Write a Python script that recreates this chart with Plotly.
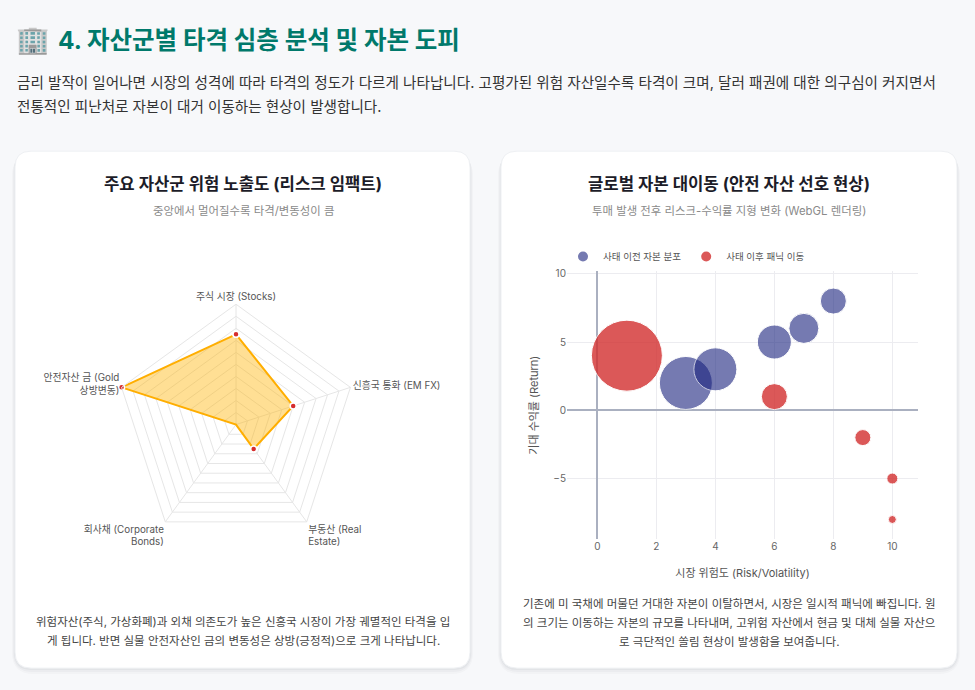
import plotly.graph_objects as go

W, H = 975, 690

# ---------------- data ----------------
radar_categories = ["주식 시장 (Stocks)", "신흥국 통화 (EM FX)", "부동산 (Real<br>Estate)",
                    "회사채 (Corporate<br>Bonds)", "안전자산 금 (Gold<br>상방변동)"]
radar_values = [75, 50, 25, 0, 100]

before_risk = [3, 4, 6, 7, 8]
before_return = [2, 3, 5, 6, 8]
before_capital = [53, 43, 34, 30, 26]

after_risk = [1, 6, 9, 10, 10]
after_return = [4, 1, -2, -5, -8]
after_capital = [71, 26, 16, 11, 8]

x_ticks = [0, 2, 4, 6, 8, 10]
y_ticks = [-5, 0, 5, 10]

FONT = "Inter, 'Noto Sans CJK KR', sans-serif"


def px(x):
    return x / W


def py(y):
    return 1 - y / H


def rrect_path(x0, y0, x1, y1, r):
    pts = [
        f"M {px(x0 + r)},{py(y0)}",
        f"L {px(x1 - r)},{py(y0)}",
        f"Q {px(x1)},{py(y0)} {px(x1)},{py(y0 + r)}",
        f"L {px(x1)},{py(y1 - r)}",
        f"Q {px(x1)},{py(y1)} {px(x1 - r)},{py(y1)}",
        f"L {px(x0 + r)},{py(y1)}",
        f"Q {px(x0)},{py(y1)} {px(x0)},{py(y1 - r)}",
        f"L {px(x0)},{py(y0 + r)}",
        f"Q {px(x0)},{py(y0)} {px(x0 + r)},{py(y0)}",
        "Z",
    ]
    return " ".join(pts)


fig = go.Figure()

# ---------------- radar ----------------
theta = radar_categories + [radar_categories[0]]
rvals = radar_values + [radar_values[0]]
fig.add_trace(go.Scatterpolar(
    r=rvals, theta=theta, mode="lines+markers", fill="toself",
    fillcolor="rgba(255,179,0,0.42)",
    line=dict(color="#ffae00", width=2),
    marker=dict(color="#d62d2d", size=6, line=dict(color="white", width=1.5)),
    showlegend=False, subplot="polar",
))

# ---------------- bubble ----------------
fig.add_trace(go.Scatter(
    x=before_risk, y=before_return, mode="markers", name="사태 이전 자본 분포",
    marker=dict(size=before_capital, sizemode="diameter", sizeref=1,
                color="#1a237e", opacity=0.6, line=dict(color="white", width=1)),
    xaxis="x", yaxis="y",
))
fig.add_trace(go.Scatter(
    x=after_risk, y=after_return, mode="markers", name="사태 이후 패닉 이동",
    marker=dict(size=after_capital, sizemode="diameter", sizeref=1,
                color="#d32f2f", opacity=0.8, line=dict(color="white", width=1)),
    xaxis="x", yaxis="y",
))

shapes = []
for (x0, x1) in [(15, 470), (501, 957)]:
    for k, a in [(6, 0.025), (4, 0.03), (2, 0.04)]:
        shapes.append(dict(type="path", xref="paper", yref="paper",
                           path=rrect_path(x0 - k / 2, 148 + k / 2, x1 + k / 2, 668 + k, 16 + k),
                           fillcolor=f"rgba(30,40,60,{a})", line=dict(width=0), layer="below"))
    shapes.append(dict(type="path", xref="paper", yref="paper",
                       path=rrect_path(x0, 148, x1, 668, 16),
                       fillcolor="white", line=dict(color="#eef0f3", width=1), layer="below"))

annotations = []


def txt(x, y, s, size, color, anchor="center", bold=False, family=FONT):
    annotations.append(dict(
        x=px(x), y=py(y), xref="paper", yref="paper", text=f"<b>{s}</b>" if bold else s,
        showarrow=False, xanchor=anchor, yanchor="middle",
        font=dict(size=size, color=color, family=family), align=anchor if anchor != "center" else "center",
    ))


txt(14, 36, "🏢", 27, "#333", anchor="left")
txt(56, 36, "4. 자산군별 타격 심층 분석 및 자본 도피", 24.5, "#00796b", anchor="left", bold=True)
txt(15, 79, "금리 발작이 일어나면 시장의 성격에 따라 타격의 정도가 다르게 나타납니다. 고평가된 위험 자산일수록 타격이 크며, 달러 패권에 대한 의구심이 커지면서",
    14.6, "#333", anchor="left")
txt(15, 104, "전통적인 피난처로 자본이 대거 이동하는 현상이 발생합니다.", 14.6, "#333", anchor="left")

txt(243, 181, "주요 자산군 위험 노출도 (리스크 임팩트)", 16.7, "#1c1c28", bold=True)
txt(243, 208, "중앙에서 멀어질수록 타격/변동성이 큼", 11.4, "#8a8a8a")
txt(729, 181, "글로벌 자본 대이동 (안전 자산 선호 현상)", 16.7, "#1c1c28", bold=True)
txt(729, 208, "투매 발생 전후 리스크-수익률 지형 변화 (WebGL 렌더링)", 11.4, "#8a8a8a")

txt(243, 622, "위험자산(주식, 가상화폐)과 외채 의존도가 높은 신흥국 시장이 가장 궤멸적인 타격을 입", 11.5, "#444")
txt(243, 641, "게 됩니다. 반면 실물 안전자산인 금의 변동성은 상방(긍정적)으로 크게 나타납니다.", 11.5, "#444")
txt(729, 604, "기존에 미 국채에 머물던 거대한 자본이 이탈하면서, 시장은 일시적 패닉에 빠집니다. 원", 11.5, "#444")
txt(729, 623, "의 크기는 이동하는 자본의 규모를 나타내며, 고위험 자산에서 현금 및 대체 실물 자산으", 11.5, "#444")
txt(729, 642, "로 극단적인 쏠림 현상이 발생함을 보여줍니다.", 11.5, "#444")

cx, cy, R = 236, 423, 121

fig.update_layout(
    width=W, height=H, margin=dict(l=0, r=0, t=0, b=0),
    paper_bgcolor="#f7f8fa", plot_bgcolor="white",
    font=dict(family=FONT, color="#555"),
    shapes=shapes, annotations=annotations,
    polar=dict(
        domain=dict(x=[px(cx - R), px(cx + R)], y=[py(cy + R), py(cy - R)]),
        bgcolor="rgba(0,0,0,0)",
        gridshape="linear",
        radialaxis=dict(range=[0, 100], dtick=10, showticklabels=False, ticks="",
                        showline=False, gridcolor="#e6e6e6", gridwidth=1),
        angularaxis=dict(rotation=90, direction="clockwise", gridcolor="#e6e6e6",
                         linecolor="#e6e6e6", ticks="",
                         tickfont=dict(size=9.8, color="#555", family=FONT)),
    ),
    xaxis=dict(domain=[px(567), px(918)], range=[-1.03, 10.87], tickvals=x_ticks,
               gridcolor="#ececf0", zeroline=True, zerolinecolor="#aab0c0", zerolinewidth=1.5,
               showline=False, ticks="", tickfont=dict(size=10, color="#666"),
               title=dict(text="시장 위험도 (Risk/Volatility)", font=dict(size=11, color="#555"), standoff=18)),
    yaxis=dict(domain=[py(538), py(269)], range=[-9.42, 10.17], tickvals=y_ticks,
               gridcolor="#ececf0", zeroline=True, zerolinecolor="#aab0c0", zerolinewidth=1.5,
               showline=False, ticks="", tickfont=dict(size=10, color="#666"),
               title=dict(text="기대 수익률 (Return)", font=dict(size=11, color="#555"), standoff=12)),
    legend=dict(orientation="h", x=px(563), y=py(254), xanchor="left", yanchor="middle",
                font=dict(size=9.5, color="#555"), itemsizing="constant", bgcolor="rgba(0,0,0,0)",
                itemwidth=30),
)

fig.write_html("out.html", config={"displayModeBar": False},
               post_script="document.body.style.margin='0';document.body.style.overflow='hidden';")
